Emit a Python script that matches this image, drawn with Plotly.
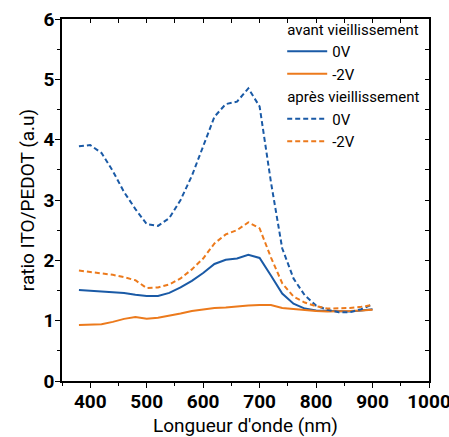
import plotly.graph_objects as go

longueur = [380, 400, 420, 440, 460, 480, 500, 520, 540, 560, 580, 600, 620, 640,
            660, 680, 700, 720, 740, 760, 780, 800, 820, 840, 860, 880, 900]

avant_0V = [1.51, 1.50, 1.49, 1.48, 1.46, 1.43, 1.41, 1.41, 1.46, 1.55, 1.66, 1.79, 1.94, 2.01,
            2.03, 2.09, 2.04, 1.75, 1.45, 1.28, 1.20, 1.17, 1.16, 1.15, 1.15, 1.17, 1.19]
avant_m2V = [0.93, 0.93, 0.94, 0.98, 1.03, 1.06, 1.03, 1.05, 1.08, 1.12, 1.16, 1.19, 1.21, 1.22,
             1.24, 1.25, 1.26, 1.26, 1.21, 1.19, 1.17, 1.16, 1.15, 1.15, 1.16, 1.17, 1.18]
apres_0V = [3.89, 3.91, 3.78, 3.48, 3.13, 2.85, 2.60, 2.57, 2.70, 3.00, 3.40, 3.90, 4.38, 4.59,
            4.63, 4.85, 4.55, 3.30, 2.20, 1.70, 1.42, 1.25, 1.18, 1.14, 1.14, 1.19, 1.27]
apres_m2V = [1.83, 1.81, 1.79, 1.76, 1.72, 1.67, 1.54, 1.55, 1.60, 1.70, 1.85, 2.03, 2.28, 2.43,
             2.50, 2.63, 2.53, 2.05, 1.62, 1.40, 1.30, 1.24, 1.20, 1.20, 1.21, 1.23, 1.26]

bleu = "#1a5aa6"
orange = "#ec7a1c"
police = "Roboto"

fig = go.Figure()

series = [
    (avant_0V, "0V", bleu, "solid", "avant", "avant vieillissement"),
    (avant_m2V, "-2V", orange, "solid", "avant", None),
    (apres_0V, "0V", bleu, "5px,3px", "apres", "après vieillissement"),
    (apres_m2V, "-2V", orange, "5px,3px", "apres", None),
]
for y, nom, couleur, trait, groupe, titre in series:
    tr = go.Scatter(x=longueur, y=y, mode="lines", name=nom, legendgroup=groupe,
                    line=dict(color=couleur, width=2, dash=trait))
    if titre:
        tr.legendgrouptitle = dict(text=titre, font=dict(family=police, size=15, color="black"))
    fig.add_trace(tr)

# traces transparentes pour faire apparaitre les graduations miroirs (haut / droite)
invisible = dict(mode="lines", line=dict(width=0, color="rgba(0,0,0,0)"),
                 showlegend=False, hoverinfo="skip")
fig.add_trace(go.Scatter(x=longueur, y=avant_0V, xaxis="x2", yaxis="y", **invisible))
fig.add_trace(go.Scatter(x=longueur, y=avant_0V, xaxis="x", yaxis="y2", **invisible))

axe_commun = dict(showline=True, mirror=True, linecolor="black", linewidth=1.5, showgrid=False,
                  zeroline=False, ticks="outside", ticklen=5, tickwidth=1.2, tickcolor="black",
                  automargin=False, ticklabelstandoff=-3, ticklabeloverflow="allow",
                  tickfont=dict(family=police, size=19, color="black", weight="bold"))
miroir = dict(showline=False, ticks="inside", ticklen=4, tickwidth=1.2, tickcolor="black",
              showticklabels=False, showgrid=False, zeroline=False, automargin=False)

fig.update_layout(
    width=449, height=437,
    margin=dict(l=62, r=20, t=14, b=56),
    plot_bgcolor="white", paper_bgcolor="white",
    font=dict(family=police, color="black"),
    xaxis=dict(range=[350, 1000], dtick=100, tick0=0,
               minor=dict(ticks="outside", dtick=50, ticklen=3, tickcolor="black"),
               title=dict(text="Longueur d'onde (nm)", font=dict(family=police, size=19)),
               **axe_commun),
    yaxis=dict(range=[0, 6], dtick=1,
               minor=dict(ticks="outside", dtick=0.5, ticklen=3, tickcolor="black"),
               title=dict(text="ratio ITO/PEDOT (a.u)", font=dict(family=police, size=19),
                          standoff=4),
               **axe_commun),
    xaxis2=dict(range=[350, 1000], overlaying="x", side="top", dtick=50, **miroir),
    yaxis2=dict(range=[0, 6], overlaying="y", side="right", dtick=0.5, **miroir),
    legend=dict(x=0.6, y=1.018, xanchor="left", yanchor="top", bgcolor="rgba(0,0,0,0)",
                font=dict(family=police, size=15, color="black"), tracegroupgap=0,
                itemwidth=40),
)

# page sans marge pour que la figure occupe exactement la fenetre
fig.write_html("out.html", config={"displayModeBar": False},
               post_script="document.body.style.margin='0';")
